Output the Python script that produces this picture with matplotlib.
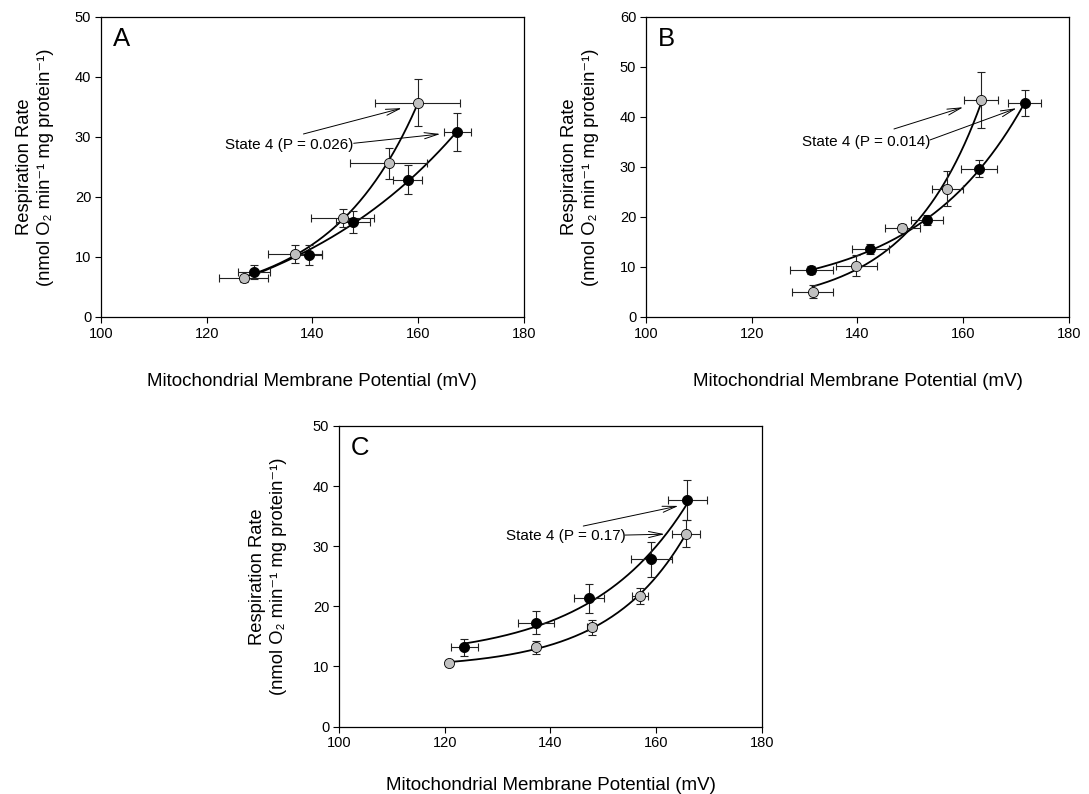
import numpy as np
import matplotlib.pyplot as plt

plt.rcParams['font.family'] = ['Liberation Sans', 'DejaVu Sans']

# ---- Panel A ----
a_gray_x = [127.0, 136.7, 145.7, 154.4, 159.9]
a_gray_y = [6.45, 10.45, 16.45, 25.6, 35.7]
a_gray_xerr = [4.6, 5.1, 6.0, 7.3, 8.1]
a_gray_yerr = [0.6, 1.5, 1.5, 2.6, 3.9]
a_black_x = [129.0, 139.3, 147.7, 158.0, 167.4]
a_black_y = [7.45, 10.3, 15.8, 22.9, 30.8]
a_black_xerr = [3.0, 2.5, 3.2, 2.7, 2.5]
a_black_yerr = [1.2, 1.7, 1.8, 2.4, 3.2]

# ---- Panel B ----
b_gray_x = [131.5, 139.8, 148.5, 157.0, 163.3]
b_gray_y = [5.0, 10.25, 17.8, 25.6, 43.3]
b_gray_xerr = [3.8, 3.8, 3.3, 2.9, 3.2]
b_gray_yerr = [1.3, 2.1, 0.8, 3.5, 5.6]
b_black_x = [131.3, 142.4, 153.2, 163.0, 171.6]
b_black_y = [9.3, 13.65, 19.3, 29.6, 42.75]
b_black_xerr = [4.0, 3.5, 3.0, 3.4, 3.1]
b_black_yerr = [0.8, 1.0, 1.0, 1.7, 2.6]

# ---- Panel C ----
c_gray_x = [120.8, 137.2, 147.8, 157.0, 165.6]
c_gray_y = [10.5, 13.15, 16.5, 21.75, 32.1]
c_gray_xerr = [0.5, 0.6, 0.8, 1.5, 2.7]
c_gray_yerr = [0.5, 1.1, 1.2, 1.35, 2.2]
c_black_x = [123.7, 137.2, 147.3, 159.1, 165.9]
c_black_y = [13.15, 17.3, 21.3, 27.8, 37.7]
c_black_xerr = [2.5, 3.4, 2.8, 3.8, 3.7]
c_black_yerr = [1.35, 1.9, 2.4, 2.9, 3.3]

panels = [
    ('A', [0.0927, 0.6008, 0.3884, 0.3778], 50, 23, 15,
     (a_gray_x, a_gray_y, a_gray_xerr, a_gray_yerr),
     (a_black_x, a_black_y, a_black_xerr, a_black_yerr),
     'State 4 (P = 0.026)', (123.5, 28.7),
     [((138.3, 30.5), (156.9, 34.8)), ((147.8, 28.95), (164.2, 30.5))]),
    ('B', [0.5932, 0.6008, 0.3884, 0.3778], 60, 23, 15,
     (b_gray_x, b_gray_y, b_gray_xerr, b_gray_yerr),
     (b_black_x, b_black_y, b_black_xerr, b_black_yerr),
     'State 4 (P = 0.014)', (129.6, 35.0),
     [((146.9, 37.6), (160.0, 41.95)), ((153.7, 35.4), (170.1, 41.75))]),
    ('C', [0.3113, 0.0850, 0.3884, 0.3785], 50, 19, 19,
     (c_gray_x, c_gray_y, c_gray_xerr, c_gray_yerr),
     (c_black_x, c_black_y, c_black_xerr, c_black_yerr),
     'State 4 (P = 0.17)', (131.5, 31.7),
     [((146.2, 33.35), (164.2, 36.7)), ((154.1, 31.85), (161.6, 32.0))]),
]


def exp_fit(x, y):
    # y = y0 + a*exp(b*x), scan b and solve the rest by least squares
    x = np.asarray(x)
    y = np.asarray(y)
    best = None
    for b in np.linspace(0.005, 0.3, 3000):
        A = np.column_stack([np.ones_like(x), np.exp(b * (x - x[0]))])
        coef, *_ = np.linalg.lstsq(A, y, rcond=None)
        sse = np.sum((A @ coef - y) ** 2)
        if best is None or sse < best[0]:
            best = (sse, b, coef)
    _, b, coef = best
    xs = np.linspace(x[0], x[-1], 200)
    return xs, coef[0] + coef[1] * np.exp(b * (xs - x[0]))


fig = plt.figure(figsize=(10.89, 7.94), dpi=100)

for letra, pos, ymax, xpad, ypad, gray, black, texto, tpos, setas in panels:
    ax = fig.add_axes(pos)
    for serie in (gray, black):
        xs, ys = exp_fit(serie[0], serie[1])
        ax.plot(xs, ys, color='black', lw=1.3, zorder=2)
    for serie, cor in ((gray, '#c0c0c0'), (black, 'black')):
        ax.errorbar(serie[0], serie[1], xerr=serie[2], yerr=serie[3],
                    fmt='none', ecolor='#222222', elinewidth=0.8,
                    capsize=3.2, capthick=0.8, zorder=3)
        ax.plot(serie[0], serie[1], 'o', color=cor, mec='black', mew=0.6,
                ms=7.3, zorder=4)

    ax.text(tpos[0], tpos[1], texto, fontsize=11, va='center', ha='left', zorder=5)
    for ini, fim in setas:
        ax.annotate('', xy=fim, xytext=ini,
                    arrowprops=dict(arrowstyle='->,head_length=1.0,head_width=0.22',
                                    lw=0.7, color='black', shrinkA=0, shrinkB=0))
    ax.text(0.028, 0.965, letra, transform=ax.transAxes, fontsize=18.5,
            va='top', ha='left')

    ax.set_xlim(100, 180)
    ax.set_ylim(0, ymax)
    ax.set_xticks([100, 120, 140, 160, 180])
    ax.set_yticks(np.arange(0, ymax + 1, 10))
    ax.tick_params(direction='out', length=4, width=0.8, labelsize=10.5, pad=3)
    for s in ax.spines.values():
        s.set_linewidth(0.9)
    ax.set_xlabel('Mitochondrial Membrane Potential (mV)', fontsize=13.5, labelpad=xpad)
    ax.set_ylabel('Respiration Rate\n(nmol O\u2082 min\u207b\u00b9 mg protein\u207b\u00b9)',
                  fontsize=13.2, labelpad=ypad, linespacing=1.3)

plt.savefig('out.png', dpi=100)
